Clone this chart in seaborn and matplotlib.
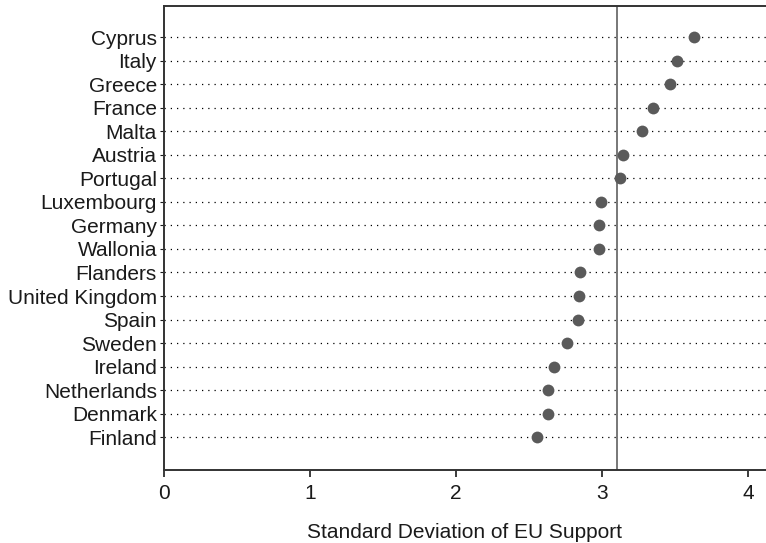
import matplotlib
matplotlib.use("Agg")
import matplotlib.pyplot as plt
import seaborn as sns
import pandas as pd

# values
countries = ["Cyprus", "Italy", "Greece", "France", "Malta", "Austria", "Portugal",
             "Luxembourg", "Germany", "Wallonia", "Flanders", "United Kingdom",
             "Spain", "Sweden", "Ireland", "Netherlands", "Denmark", "Finland"]
std_dev = [3.63, 3.51, 3.46, 3.35, 3.27, 3.14, 3.12,
           2.99, 2.98, 2.975, 2.85, 2.84,
           2.835, 2.76, 2.67, 2.63, 2.625, 2.55]
mean_line = 3.10
x_ticks = [0, 1, 2, 3, 4]

df = pd.DataFrame({"Country": countries, "SD": std_dev})

sns.set_style("ticks")
plt.rcParams["font.family"] = ["Liberation Sans", "DejaVu Sans"]

fig = plt.figure(figsize=(7.66, 5.43), dpi=100)
ax = fig.add_axes([0.214, 0.134, 0.786, 0.855])

# dotted row guides
for i in range(len(countries)):
    ax.axhline(i, color="black", linewidth=0.9, linestyle=(0, (1, 4)), zorder=1)

ax.axvline(mean_line, color="#777777", linewidth=1.4, zorder=2)

sns.stripplot(data=df, x="SD", y="Country", order=countries, jitter=False,
              color="#5a5a5a", size=8.5, linewidth=0, ax=ax, zorder=3)

ax.set_xlim(0, 4.12)
ax.set_ylim(len(countries) - 1 + 1.4, -1.32)
ax.set_xticks(x_ticks)
ax.set_xticklabels([str(t) for t in x_ticks])
ax.set_xlabel("Standard Deviation of EU Support", fontsize=15, labelpad=14, color="#1a1a1a")
ax.set_ylabel("")
ax.tick_params(axis="x", labelsize=15, length=5, width=1.2, pad=5, colors="#1a1a1a")
ax.tick_params(axis="y", labelsize=15, length=3, width=0.8, pad=2, colors="#1a1a1a")

for side in ["left", "bottom", "top"]:
    ax.spines[side].set_color("#333333")
    ax.spines[side].set_linewidth(1.4)
ax.spines["right"].set_visible(False)

fig.savefig("out.png", dpi=100)
